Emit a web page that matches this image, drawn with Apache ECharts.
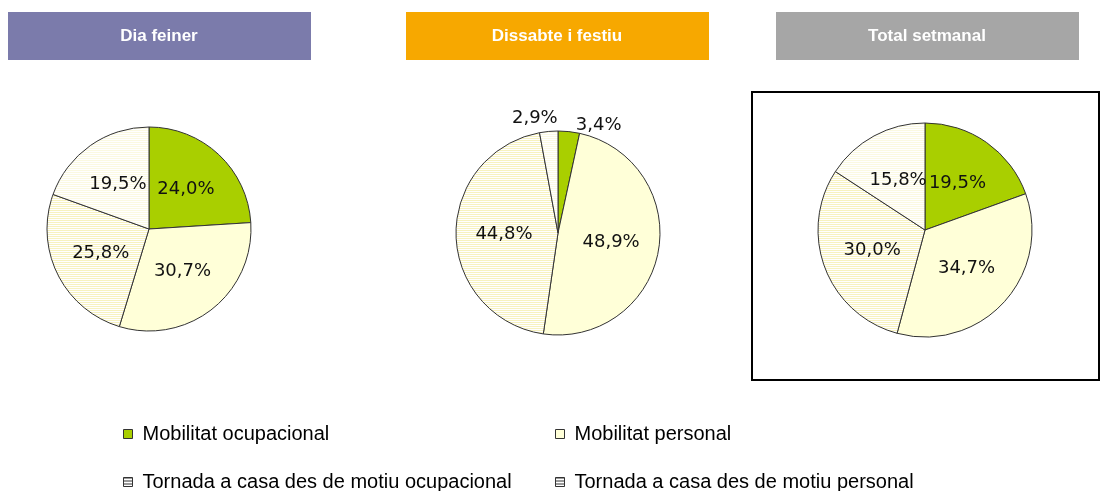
<!DOCTYPE html>
<html>
<head>
<meta charset="utf-8">
<script src="https://cdn.jsdelivr.net/npm/echarts@6/dist/echarts.min.js"></script>
<style>
html, body { margin: 0; padding: 0; background: #fff; }
#chart { width: 1101px; height: 491px; }
</style>
</head>
<body>
<div id="chart"></div>
<script>
const categories = [
  'Mobilitat ocupacional',
  'Mobilitat personal',
  'Tornada a casa des de motiu ocupacional',
  'Tornada a casa des de motiu personal'
]
const titles = ['Dia feiner', 'Dissabte i festiu', 'Total setmanal']
const diaFeiner = [24.0, 30.7, 25.8, 19.5]
const dissabte = [3.4, 48.9, 44.8, 2.9]
const totalSetmanal = [19.5, 34.7, 30.0, 15.8]

function stripes (bg, line, step) {
  step = step || 2
  let c = document.createElement('canvas')
  c.width = step
  c.height = step
  let ctx = c.getContext('2d')
  ctx.fillStyle = bg
  ctx.fillRect(0, 0, step, step)
  ctx.fillStyle = line
  ctx.fillRect(0, 0, step, 1)
  return { image: c, repeat: 'repeat' }
}

const colors = [
  '#a9cf00',
  '#ffffd8',
  stripes('#ffffff', '#f7f2c0'),
  stripes('#ffffff', '#fbf9e2')
]

// small slices of the saturday pie get their label outside, nudged up
const outsideOffsets = { 0: [2, -6], 3: [14, -13] }

function pieData (values, outside) {
  return values.map((v, i) => {
    let d = {
      name: categories[i],
      value: v,
      itemStyle: { color: colors[i] }
    }
    if (outside && outside[i]) {
      d.label = { position: 'outside', distance: 2, offset: outside[i] }
      d.labelLine = { show: false, length: 0, length2: 0 }
    }
    return d
  })
}

function pieSeries (values, center, radius, outside) {
  return {
    type: 'pie',
    center: center,
    radius: radius,
    startAngle: 90,
    clockwise: true,
    animation: false,
    avoidLabelOverlap: false,
    itemStyle: { borderColor: '#333', borderWidth: 1 },
    label: {
      show: true,
      position: 'inner',
      formatter: p => p.value.toFixed(1).replace('.', ',') + '%',
      fontFamily: 'DejaVu Sans',
      fontSize: 18,
      color: '#111'
    },
    labelLine: { show: false },
    emphasis: { disabled: true },
    data: pieData(values, outside)
  }
}

const headerColors = ['#7b7bab', '#f7a800', '#a6a6a6']
const headerX = [8, 406, 776]

let graphics = [{
  type: 'rect',
  shape: { x: 752, y: 92, width: 347, height: 288 },
  style: { fill: 'none', stroke: '#000', lineWidth: 2 }
}]
titles.forEach((t, i) => {
  graphics.push({
    type: 'rect',
    shape: { x: headerX[i], y: 12, width: 303, height: 48 },
    style: { fill: headerColors[i] }
  })
  graphics.push({
    type: 'text',
    x: headerX[i] + 151,
    y: 36,
    style: {
      text: t,
      fill: '#fff',
      font: 'bold 17px "Liberation Sans", Arial',
      align: 'center',
      verticalAlign: 'middle'
    }
  })
})

const legendIcon = stripes('#ffffff', '#333', 3)
const legendPos = [[118, 419], [550, 419], [118, 467], [550, 467]]
let legends = categories.map((name, i) => ({
  left: legendPos[i][0],
  top: legendPos[i][1],
  icon: 'rect',
  itemWidth: 9,
  itemHeight: 9,
  selectedMode: false,
  itemStyle: { borderColor: '#333', borderWidth: 1 },
  textStyle: {
    fontFamily: 'Liberation Sans',
    fontSize: 20,
    color: '#000',
    padding: [0, 0, 0, 5]
  },
  data: [i >= 2 ? { name: name, itemStyle: { color: legendIcon } } : name]
}))

let option = {
  backgroundColor: '#fff',
  graphic: graphics,
  legend: legends,
  series: [
    pieSeries(diaFeiner, [149, 229], 102),
    pieSeries(dissabte, [558, 233], 102, outsideOffsets),
    pieSeries(totalSetmanal, [925, 230], 107)
  ]
}

let chart = echarts.init(document.getElementById('chart'))
chart.setOption(option)
</script>
</body>
</html>
